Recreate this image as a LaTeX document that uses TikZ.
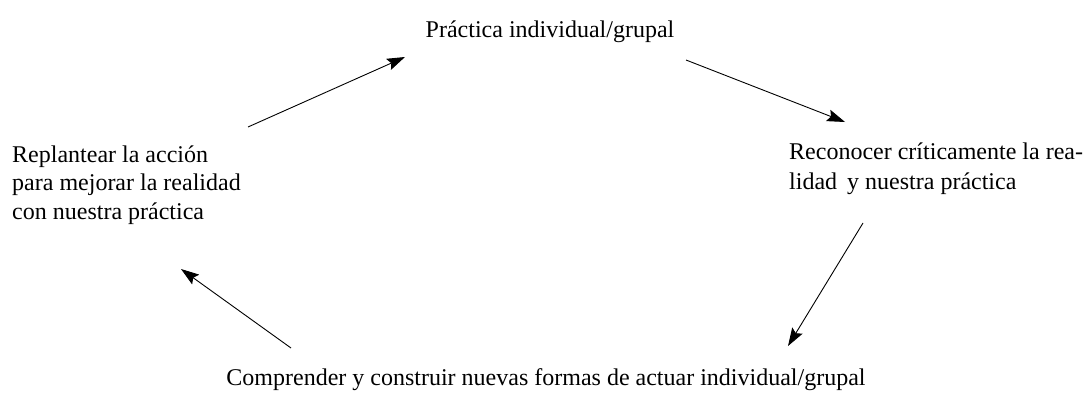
\documentclass[tikz,border=0pt]{standalone}
\usepackage{fontspec}
\setmainfont{Liberation Serif}
\usetikzlibrary{arrows.meta}
\begin{document}
\begin{tikzpicture}[x=1pt,y=-1pt,
  lbl/.style={inner sep=0pt,font=\fontsize{24}{29}\selectfont},
  arr/.style={line width=0.9pt,-{Stealth[length=18pt,width=12pt,inset=3pt]}}]
\useasboundingbox (0,0) rectangle (1086,394);
\node[lbl,anchor=base] (top) at (550,37) {Práctica individual/grupal};
\node[lbl,anchor=west,align=left,font=\fontsize{24}{30}\selectfont] (right) at (789,169) {Reconocer críticamente la rea-\\lidad\, y nuestra práctica};
\node[lbl,anchor=base] (bot) at (546,385) {Comprender y construir nuevas formas de actuar individual/grupal};
\node[lbl,anchor=west,align=left,font=\fontsize{24}{28.5}\selectfont] (left) at (12,185) {Replantear la acción\\para mejorar la realidad\\con nuestra práctica};
\coordinate (a1s) at (248,127); \coordinate (a1e) at (405,57);
\coordinate (a2s) at (686,60);  \coordinate (a2e) at (845,122);
\coordinate (a3s) at (863,223); \coordinate (a3e) at (788,346);
\coordinate (a4s) at (291,348); \coordinate (a4e) at (181,269);
\draw[arr] (a1s) -- (a1e);
\draw[arr] (a2s) -- (a2e);
\draw[arr] (a3s) -- (a3e);
\draw[arr] (a4s) -- (a4e);
\end{tikzpicture}
\end{document}
